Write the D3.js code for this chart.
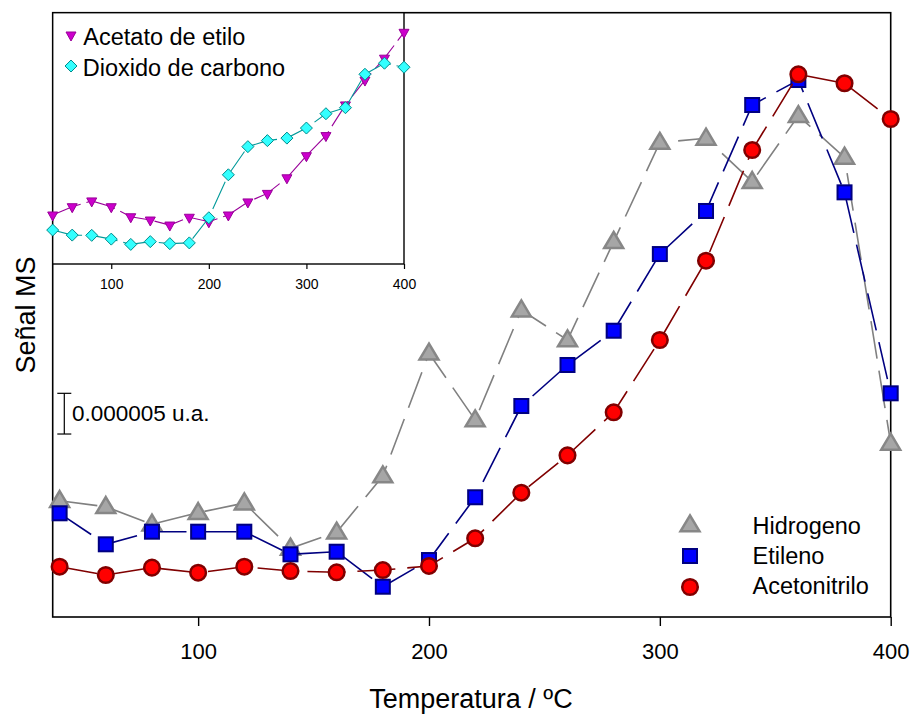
<!DOCTYPE html>
<html><head><meta charset="utf-8">
<script src="https://cdn.jsdelivr.net/npm/d3@7"></script>
<style>body{margin:0;background:#fff}svg{display:block;font-family:"Liberation Sans",Arial,sans-serif}</style>
</head><body><svg id="c" width="912" height="714"></svg>
<script>
// Temperatures (ºC)
const temps = [40,60,80,100,120,140,160,180,200,220,240,260,280,300,320,340,360,380,400];
// Main chart signals (units of 1e-6 u.a., arbitrary offset)
const hidrogeno    = [14.29,13.55,11.39,12.81,14.00,8.44,10.41,17.32,32.40,24.20,37.71,34.03,46.11,58.29,58.81,53.48,61.58,56.47,21.34];
const etileno      = [12.74,8.93,10.48,10.48,10.48,7.70,8.02,3.72,7.00,14.71,25.92,30.96,35.17,44.59,49.88,62.90,65.97,52.17,27.48];
const acetonitrilo = [6.18,5.16,6.06,5.44,6.18,5.65,5.49,5.77,6.27,9.67,15.27,19.86,25.15,34.03,43.77,57.37,66.67,65.57,61.18];
// Inset signals (arbitrary units)
const acetatoEtilo = [19.5,22.8,25.1,22.8,18.8,17.5,15.5,18.6,16.8,19.5,24.7,28.1,34.3,43.1,51.1,63.3,73.2,81.9,92.2];
const dioxidoCarb  = [13.5,11.5,11.4,9.9,7.8,8.9,8.1,8.4,18.4,35.5,46.7,49.1,50.1,54.1,59.8,62.2,75.5,79.9,78.3];
const xTicks = [100,200,300,400];
const scaleBar = {from:22.48, to:27.48, label:"0.000005 u.a."};

const svg = d3.select("#c");
const L=52.7, R=890.7, T=12.7, B=617;
const x = d3.scaleLinear().domain([37,400]).range([L,R]);
const y = d3.scaleLinear().domain([0,74.24]).range([B,T]);

// frame
svg.append("rect").attr("x",L).attr("y",T).attr("width",R-L).attr("height",B-T)
  .attr("fill","none").attr("stroke","#000").attr("stroke-width",1.6);

// x axis
const xa = svg.append("g").attr("transform",`translate(0,${B})`)
  .call(d3.axisBottom(x).tickValues(xTicks).tickSize(9).tickPadding(0).tickSizeOuter(0));
xa.select(".domain").remove();
xa.selectAll(".tick line").attr("stroke","#000").attr("stroke-width",1.4);
xa.selectAll(".tick text").attr("font-size",22).attr("fill","#000").attr("y",null).attr("dy",null)
  .attr("transform","translate(0,41.5)");

svg.append("text").attr("x",471).attr("y",708).attr("text-anchor","middle").attr("font-size",27).text("Temperatura / ºC");
svg.append("text").attr("transform","translate(35,315) rotate(-90)").attr("text-anchor","middle").attr("font-size",27).text("Señal MS");

// scale bar
const sbx = 64.3;
const sb = svg.append("g").attr("stroke","#000").attr("stroke-width",1.2);
sb.append("line").attr("x1",sbx).attr("x2",sbx).attr("y1",y(scaleBar.from)).attr("y2",y(scaleBar.to));
sb.append("line").attr("x1",sbx-7).attr("x2",sbx+7).attr("y1",y(scaleBar.from)).attr("y2",y(scaleBar.from));
sb.append("line").attr("x1",sbx-7).attr("x2",sbx+7).attr("y1",y(scaleBar.to)).attr("y2",y(scaleBar.to));
svg.append("text").attr("x",72).attr("y",420.7).attr("font-size",22.5).text(scaleBar.label);

const triPath = (w,h)=>`M0,${-h*2/3}L${w/2},${h/3}L${-w/2},${h/3}Z`;
const triDown = (w,h)=>`M0,${h*2/3}L${w/2},${-h/3}L${-w/2},${-h/3}Z`;

const series = [
  {name:"Hidrogeno", vals:hidrogeno, line:"#808080", fill:"#a6a6a6", stroke:"#878787", sw:2.5, shape:"tri"},
  {name:"Etileno", vals:etileno, line:"#000080", fill:"#0000ff", stroke:"#000080", sw:2, shape:"sq"},
  {name:"Acetonitrilo", vals:acetonitrilo, line:"#800000", fill:"#ff0000", stroke:"#800000", sw:2.5, shape:"circ"}
];
function marker(g, s, cx, cy){
  if(s.shape==="tri") g.append("path").attr("d",triPath(19,16)).attr("transform",`translate(${cx},${cy+1})`);
  else if(s.shape==="sq") g.append("rect").attr("x",cx-7).attr("y",cy-7).attr("width",14).attr("height",14);
  else g.append("circle").attr("cx",cx).attr("cy",cy).attr("r",7.8);
}
const line = d3.line().x((d,i)=>x(temps[i])).y(d=>y(d));
series.forEach(s=>{
  svg.append("path").datum(s.vals).attr("d",line).attr("fill","none").attr("stroke",s.line)
    .attr("stroke-width",1.6).attr("stroke-dasharray","38,12");
  const g = svg.append("g").attr("fill",s.fill).attr("stroke",s.stroke).attr("stroke-width",s.sw);
  s.vals.forEach((v,i)=>marker(g,s,x(temps[i]),y(v)));
});

// legend
const legY = [525,556,587], legText=[534.3,564,594];
series.forEach((s,i)=>{
  const g = svg.append("g").attr("fill",s.fill).attr("stroke",s.stroke).attr("stroke-width",s.sw);
  marker(g,s,690,legY[i]);
  svg.append("text").attr("x",752.5).attr("y",legText[i]).attr("font-size",23.5).text(s.name);
});

// inset
const iL=52.7, iR=404, iT=12.7, iB=264;
const ix = d3.scaleLinear().domain([40,400]).range([iL,iR]);
const iy = d3.scaleLinear().domain([0,100]).range([iB,iT]);
svg.append("rect").attr("x",iL).attr("y",iT).attr("width",iR-iL).attr("height",iB-iT)
  .attr("fill","#fff").attr("stroke","#000").attr("stroke-width",1.4);
const ixa = svg.append("g").attr("transform",`translate(0,${iB})`)
  .call(d3.axisBottom(ix).tickValues(xTicks).tickSize(5).tickPadding(0).tickSizeOuter(0));
ixa.select(".domain").remove();
ixa.selectAll(".tick line").attr("stroke","#000").attr("stroke-width",1.2);
ixa.selectAll(".tick text").attr("font-size",14).attr("fill","#000").attr("y",null).attr("dy",null)
  .attr("transform","translate(0,25)");
const iline = d3.line().x((d,i)=>ix(temps[i])).y(d=>iy(d));
const inset = [
  {name:"Acetato de etilo", vals:acetatoEtilo, line:"#990099", fill:"#cc00cc", stroke:"#990099", shape:"tdown"},
  {name:"Dioxido de carbono", vals:dioxidoCarb, line:"#009999", fill:"#33ffff", stroke:"#008b8b", shape:"dia"}
];
function imarker(g,s,cx,cy){
  if(s.shape==="tdown") g.append("path").attr("d",triDown(10,9)).attr("transform",`translate(${cx},${cy})`);
  else g.append("path").attr("d","M0,-6L6,0L0,6L-6,0Z").attr("transform",`translate(${cx},${cy})`);
}
inset.forEach(s=>{
  svg.append("path").datum(s.vals).attr("d",iline).attr("fill","none").attr("stroke",s.line)
    .attr("stroke-width",1.1).attr("stroke-dasharray","30,6");
  const g = svg.append("g").attr("fill",s.fill).attr("stroke",s.stroke).attr("stroke-width",1);
  s.vals.forEach((v,i)=>imarker(g,s,ix(temps[i]),iy(v)));
});
const iLeg=[{y:35,ty:45,x:83.3},{y:66,ty:76,x:82.7}];
inset.forEach((s,i)=>{
  const g = svg.append("g").attr("fill",s.fill).attr("stroke",s.stroke).attr("stroke-width",1);
  imarker(g,s,71,iLeg[i].y);
  svg.append("text").attr("x",iLeg[i].x).attr("y",iLeg[i].ty).attr("font-size",23.5).text(s.name);
});
</script></body></html>
